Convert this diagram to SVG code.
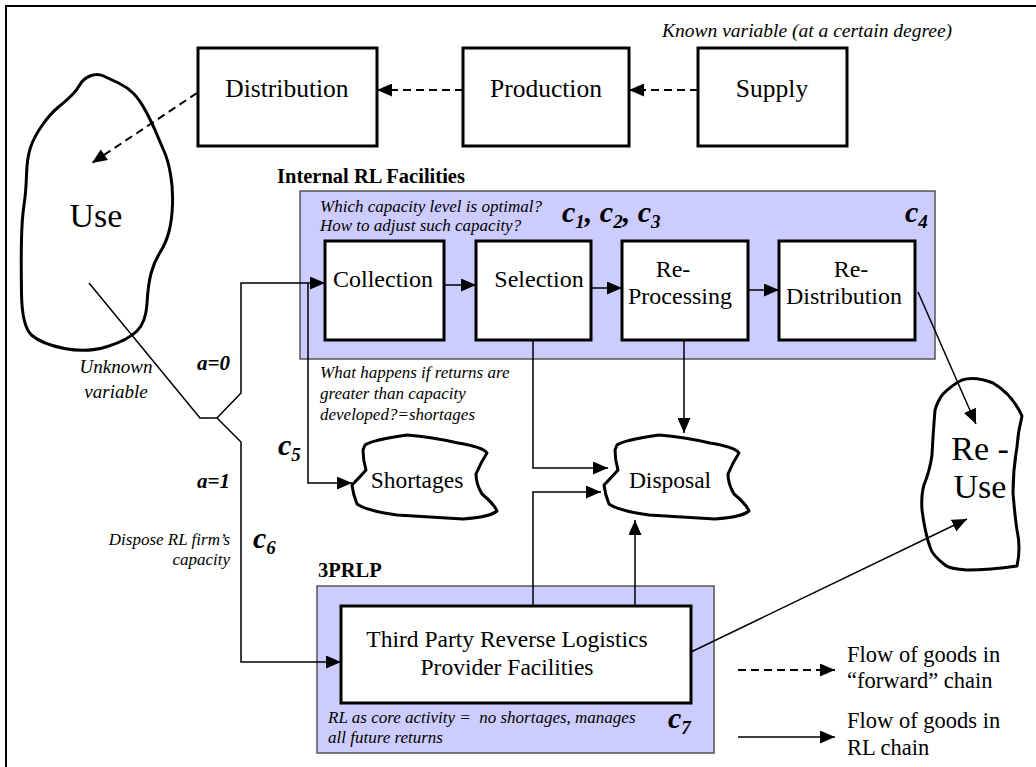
<svg xmlns="http://www.w3.org/2000/svg" width="1036" height="767" viewBox="0 0 1036 767" font-family="'Liberation Serif', 'Times New Roman', Tinos, 'DejaVu Serif', serif">
<style>
.t{font-family:"Liberation Serif","Times New Roman",Tinos,"DejaVu Serif",serif;fill:#000}
.it{font-style:italic}
.b{font-weight:bold}
.box{fill:#fff;stroke:#000;stroke-width:3}
.grp{fill:#ccccff;stroke:#555;stroke-width:1.5}
.blob{fill:#fff;stroke:#000;stroke-width:3;stroke-linejoin:round}
.conn{fill:none;stroke:#000;stroke-width:1.5}
.dash{fill:none;stroke:#000;stroke-width:2;stroke-dasharray:8 5}
.c{font-family:"Liberation Serif","Times New Roman",Tinos,"DejaVu Serif",serif;font-weight:bold;font-style:italic;font-size:30px}
.sub{font-size:19px}
</style>
<defs>
<marker id="ah" markerUnits="userSpaceOnUse" markerWidth="15" markerHeight="13" refX="15" refY="6.5" orient="auto" viewBox="0 0 15 13">
<path d="M0,0 L15,6.5 L0,13 Z" fill="#000"/>
</marker>
<path id="lump" d="M365,445 Q372,440 407,435 Q432,437 458,443 Q483,447 487,453 Q481,462 476,474 Q476,484 482,494 Q494,504 497,511 Q490,517 463,519 Q430,517 397,515 Q367,511 357,504 Q353,494 352,485 Q358,479 366,470 Q363,460 363,450 Z"/>
</defs>
<rect width="1036" height="767" fill="#fff"/>
<path d="M6,767 V6 H1036" fill="none" stroke="#000" stroke-width="2"/>

<text class="t it" x="662" y="37" font-size="19.5">Known variable (at a certain degree)</text>

<g id="distribution">
<rect class="box" x="198" y="48" width="179" height="98"/>
<text class="t" x="287" y="97" font-size="25.5" text-anchor="middle">Distribution</text>
</g>
<g id="production">
<rect class="box" x="463" y="48" width="166" height="98"/>
<text class="t" x="546" y="97" font-size="25.5" text-anchor="middle">Production</text>
</g>
<g id="supply">
<rect class="box" x="698" y="48" width="149" height="98"/>
<text class="t" x="772" y="97" font-size="25.5" text-anchor="middle">Supply</text>
</g>

<g id="use">
<path class="blob" d="M90,76 Q97,73 103.5,76 Q110,79 118.5,83 Q127,87 133.5,93.5 Q140,100 146.5,112.5 Q153,125 156.5,133.5 Q160,142 164,151 Q168,160 170.5,174 Q173,188 172.5,204 Q172,220 169,231.5 Q166,243 160,252.5 Q154,262 151,273.5 Q148,285 147,303.5 Q146,322 137,331 Q128,340 107.5,346.5 Q87,353 64.5,348.5 Q42,344 32,335.5 Q22,327 21.5,293.5 Q21,260 21.5,239 Q22,218 24,205 Q26,192 26.5,175 Q27,158 30.5,147.5 Q34,137 42,125.5 Q50,114 58.5,107 Q67,100 72,95 Q77,90 80,84.5 Q83,79 90,76 Z"/>
<text class="t" x="96" y="227" font-size="34" text-anchor="middle">Use</text>
</g>
<text class="t it" x="116" y="373" font-size="19" text-anchor="middle">Unknown</text>
<text class="t it" x="116" y="398" font-size="19" text-anchor="middle">variable</text>

<g id="internal-rl">
<text class="t b" x="277" y="183" font-size="20.5">Internal RL Facilities</text>
<rect class="grp" x="300" y="191" width="635" height="168"/>
<text class="t it" x="320" y="212" font-size="17">Which capacity level is optimal?</text>
<text class="t it" x="320" y="231" font-size="17">How to adjust such capacity?</text>
<text class="c" x="562" y="222">c<tspan class="sub" dy="6">1</tspan><tspan dy="-6">, c</tspan><tspan class="sub" dy="6">2</tspan><tspan dy="-6">, c</tspan><tspan class="sub" dy="6">3</tspan></text>
<text class="c" x="905" y="222">c<tspan class="sub" dy="6">4</tspan></text>
</g>
<g id="collection">
<rect class="box" x="325" y="241" width="119" height="99"/>
<text class="t" x="383" y="287" font-size="24" text-anchor="middle">Collection</text>
</g>
<g id="selection">
<rect class="box" x="476" y="241" width="115" height="99"/>
<text class="t" x="539" y="287" font-size="24" text-anchor="middle">Selection</text>
</g>
<g id="reprocessing">
<rect class="box" x="622" y="241" width="126" height="99"/>
<text class="t" x="673" y="277" font-size="24" text-anchor="middle">Re-</text>
<text class="t" x="680" y="304" font-size="24" text-anchor="middle">Processing</text>
</g>
<g id="redistribution">
<rect class="box" x="779" y="241" width="136" height="99"/>
<text class="t" x="851" y="277" font-size="24" text-anchor="middle">Re-</text>
<text class="t" x="844" y="304" font-size="24" text-anchor="middle">Distribution</text>
</g>

<text class="t it" x="320" y="378" font-size="17">What happens if returns are</text>
<text class="t it" x="320" y="399" font-size="17">greater than capacity</text>
<text class="t it" x="320" y="420" font-size="17">developed?=shortages</text>

<g id="shortages">
<use href="#lump" class="blob"/>
<text class="t" x="417" y="488" font-size="23.5" text-anchor="middle">Shortages</text>
</g>
<g id="disposal">
<use href="#lump" class="blob" transform="translate(252,0)"/>
<text class="t" x="670" y="488" font-size="23.5" text-anchor="middle">Disposal</text>
</g>
<g id="reuse">
<path class="blob" d="M962,380 Q975,376 993,383 Q1012,394 1022,416 Q1018,432 1017,447 Q1013,470 1013,493 Q1015,517 1017,530 Q1021,548 1017,566 Q990,570 967,570 Q950,569 945,565 Q932,555 930,547 Q925,533 922,510 Q921,495 924,485 Q930,470 932,455 Q933,435 935,410 Q938,400 943,394 Q952,385 962,380 Z"/>
<text class="t" x="980" y="460" font-size="34" text-anchor="middle">Re -</text>
<text class="t" x="980" y="498" font-size="34" text-anchor="middle">Use</text>
</g>

<text class="t b it" x="197" y="370" font-size="21">a=0</text>
<text class="t b it" x="197" y="488" font-size="21">a=1</text>
<text class="c" x="278" y="455">c<tspan class="sub" dy="6">5</tspan></text>
<text class="c" x="253" y="548">c<tspan class="sub" dy="6">6</tspan></text>
<text class="t it" x="230" y="545" font-size="17" text-anchor="end">Dispose RL firm’s</text>
<text class="t it" x="230" y="565" font-size="17" text-anchor="end">capacity</text>

<g id="third-party">
<text class="t b" x="318" y="577" font-size="20.5">3PRLP</text>
<rect class="grp" x="317" y="586" width="397" height="167"/>
<rect class="box" x="341" y="606" width="350" height="97"/>
<text class="t" x="507" y="647" font-size="23.5" text-anchor="middle">Third Party Reverse Logistics</text>
<text class="t" x="507" y="675" font-size="23.5" text-anchor="middle">Provider Facilities</text>
<text class="t it" x="328" y="723" font-size="17" xml:space="preserve">RL as core activity =  no shortages, manages</text>
<text class="t it" x="328" y="743" font-size="17">all future returns</text>
<text class="c" x="668" y="728">c<tspan class="sub" dy="6">7</tspan></text>
</g>

<g id="legend">
<path class="dash" d="M738,670 H835" marker-end="url(#ah)"/>
<text class="t" x="847" y="662" font-size="22.5">Flow of goods in</text>
<text class="t" x="847" y="688" font-size="22.5">“forward” chain</text>
<path class="conn" d="M738,737 H835" marker-end="url(#ah)"/>
<text class="t" x="847" y="728" font-size="22.5">Flow of goods in</text>
<text class="t" x="847" y="755" font-size="22.5">RL chain</text>
</g>

<g id="connectors">
<path class="dash" d="M698,90 H629" marker-end="url(#ah)"/>
<path class="dash" d="M463,90 H377" marker-end="url(#ah)"/>
<path class="dash" d="M197,93 L92,163" marker-end="url(#ah)"/>
<path class="conn" d="M89,283 L200,418 H217 L241,393 V283 H325" marker-end="url(#ah)"/>
<path class="conn" d="M217,418 L241,442 V662 H341" marker-end="url(#ah)"/>
<path class="conn" d="M308,283 V483 H352" marker-end="url(#ah)"/>
<path class="conn" d="M444,285 H476" marker-end="url(#ah)"/>
<path class="conn" d="M591,288 H622" marker-end="url(#ah)"/>
<path class="conn" d="M748,290 H779" marker-end="url(#ah)"/>
<path class="conn" d="M533,340 V468 H608" marker-end="url(#ah)"/>
<path class="conn" d="M684,340 V433" marker-end="url(#ah)"/>
<path class="conn" d="M533,606 V492 H601" marker-end="url(#ah)"/>
<path class="conn" d="M635,606 V520" marker-end="url(#ah)"/>
<path class="conn" d="M918,292 L976,424" marker-end="url(#ah)"/>
<path class="conn" d="M691,652 L967,519" marker-end="url(#ah)"/>
</g>
</svg>
